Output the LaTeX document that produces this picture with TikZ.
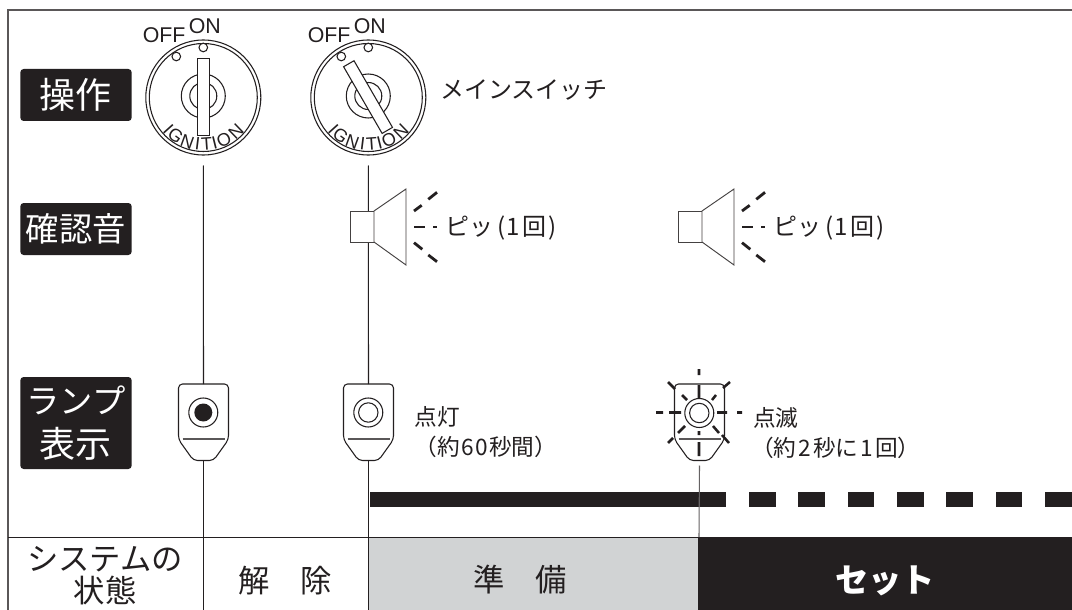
\documentclass[tikz,border=0pt]{standalone}
\usepackage{fontspec}
\setmainfont{Liberation Sans}
\newfontfamily\jp{Noto Sans CJK JP}
\definecolor{ink}{HTML}{231F20}
\definecolor{pale}{HTML}{D1D3D4}
\newcommand{\jpsize}[2]{\fontsize{#1}{#2}\selectfont}
\tikzset{
  x=0.75pt,y=-0.75pt,
  thinline/.style={draw=ink,line width=0.8pt},
  spkline/.style={draw=ink!85,line width=0.7pt},
  ray/.style={draw=ink,line width=2.1pt},
  tag/.style={fill=ink,rounded corners=2.5pt,text=white,inner sep=0pt,align=center,font=\jp\jpsize{27}{33}},
  note/.style={text=ink,inner sep=0pt,font=\jp\jpsize{18}{25.5},align=left},
  twoline/.style={text=ink,inner sep=0pt,font=\jp\jpsize{17}{22.5},align=left},
  state/.style={text=ink,inner sep=0pt,align=center,font=\jp\jpsize{23.5}{24}},
  posn/.style={text=ink,inner sep=0pt,font=\jpsize{16}{16}},
  keyletter/.style={text=ink,inner sep=0pt,font=\jpsize{13.5}{14}},
  pics/keyswitch/.style={code={
    \draw[thinline] (0,0) circle[radius=57.5];
    \draw[thinline] (0,0) circle[radius=54];
    \draw[thinline] (0,-1.5) circle[radius=22];
    \draw[thinline] (0,-1.5) circle[radius=13.5];
    \draw[thinline,fill=white] (-27,-41) circle[radius=4.3];
    \draw[thinline,fill=white] (0,-50) circle[radius=4.3];
    \foreach \ch/\an in {I/48,G/36,N/20,I/7,T/-4,I/-14,O/-26,N/-44}{
      \node[keyletter,rotate=-\an] at ({-47*sin(\an)},{47*cos(\an)}) {\ch};
    }
    \draw[thinline,fill=white,rotate=#1] (-6,-39) rectangle (6,38);
    \coordinate (-stem) at (0,68);
  }},
  pics/lampbody/.style={code={
    \draw[thinline,fill=white,rounded corners=3pt] (-25,-28.5) -- (25,-28.5) -- (25,27) -- (10,48) -- (-10,48) -- (-25,27) -- cycle;
    \draw[draw=ink!75,line width=0.9pt] (-21,26.5) -- (21,26.5);
    \coordinate (-top) at (0,-28.5);
    \coordinate (-bot) at (0,48);
  }},
  pics/speaker/.style={code={
    \draw[spkline,fill=white] (0,-15.5) rectangle (24,15.5);
    \draw[spkline,fill=white] (24,-15.5) -- (56,-37.5) -- (56,38.5) -- (24,15.5) -- cycle;
    \draw[ray] (64,-15.5) -- (71.7,-21.2) (78.3,-27.2) -- (87,-34.2);
    \draw[ray] (64,0.5) -- (75,0.5) (83.3,0.5) -- (86.7,0.5);
    \draw[ray] (64,16.2) -- (72.3,22.8) (78.3,28.5) -- (87,35.2);
  }}
}
\begin{document}
\begin{tikzpicture}
\useasboundingbox (0,0) rectangle (1072,610);
\fill[white] (0,0) rectangle (1072,610);
% state band
\fill[pale] (369,537) rectangle (698,610);
\fill[ink] (698,537) rectangle (1072,610);
% frame
\draw[draw=ink!75,line width=0.9pt] (8,610) -- (8,10) -- (1072,10);
\draw[thinline] (8,537.5) -- (1072,537.5);
% row tags
\node[tag,minimum width=83.5pt,minimum height=39pt] (tagop) at (76,95) {操作};
\node[tag,minimum width=83.5pt,minimum height=39pt,font=\jp\jpsize{25}{30}] (tagsnd) at (76,229) {確認音};
\node[tag,minimum width=83.5pt,minimum height=69pt] (taglamp) at (76,423) {\jpsize{25}{31.5}ランプ\\\jpsize{27}{31.5}表示};
% key switches
\pic (key1) at (203.3,97.5) {keyswitch=0};
\pic (key2) at (368.3,97.5) {keyswitch=30};
\node[posn,anchor=base west] (off1) at (142.5,43) {OFF};
\node[posn,anchor=base west] (on1) at (188.5,34) {ON};
\node[posn,anchor=base west] (off2) at (307.5,43) {OFF};
\node[posn,anchor=base west] (on2) at (353.5,34) {ON};
\node[note,anchor=west] (main) at (440,90) {メインスイッチ};
% lamps
\pic (lamp1) at (203.5,412.5) {lampbody};
\pic (lamp2) at (368.5,412.5) {lampbody};
\pic (lamp3) at (699.5,412.5) {lampbody};
\draw[thinline] (203.3,412.5) circle[radius=14.5];
\fill[ink] (203.3,412.5) circle[radius=9];
\draw[thinline] (368.3,412.5) circle[radius=14.5];
\draw[thinline] (368.3,412.5) circle[radius=9.7];
\draw[thinline] (699.3,413) circle[radius=14.5];
\draw[thinline] (699.3,413) circle[radius=9.7];
% flash rays
\draw[ray,line width=1.9pt]
  (699,369) -- (699,375) (699,385) -- (699,398)
  (699,431) -- (699,435) (699,442) -- (699,456)
  (656,412.5) -- (663,412.5) (669,412.5) -- (681,412.5)
  (717,412.5) -- (727,412.5) (737,412.5) -- (742,412.5)
  (668,382) -- (675,389) (682,395) -- (687,400)
  (730,382) -- (723,388) (716,395) -- (712,400)
  (685,426) -- (678,433) (673,438) -- (668,443)
  (713,426) -- (719,433) (722,435) -- (729,443);
% progress bar
\fill[ink] (370,492) rectangle (726,507);
\foreach \xx in {749,798.3,847.7,897,946.3,995.7,1045}{
  \fill[ink] (\xx,492) rectangle ({\xx+26.7},507);
}
% connectors
\coordinate (end1) at (203.5,610);
\coordinate (end2) at (368.5,610);
\coordinate (sep3) at (699,537);
\draw[thinline] (key1-stem) -- (lamp1-top);
\draw[thinline] (lamp1-bot) -- (end1);
\draw[thinline] (key2-stem) -- (lamp2-top);
\draw[thinline] (lamp2-bot) -- (end2);
\draw[draw=ink!70,line width=0.8pt] (lamp3-bot) ++(0,5) -- (sep3);
% speakers
\pic (spk1) at (350,226.5) {speaker};
\pic (spk2) at (678,226.5) {speaker};
\node[note,anchor=west] (beep1) at (445,228) {ピッ\kern3pt(\kern1pt1\kern1.5pt回\kern1.5pt)};
\node[note,anchor=west] (beep2) at (773,228) {ピッ\kern3pt(\kern1pt1\kern1.5pt回\kern1.5pt)};
% lamp notes
\node[twoline,anchor=west] (lit) at (414.5,432) {点灯\\（約\kern1pt6\kern1pt0\kern1pt秒間）};
\node[twoline,anchor=west] (blink) at (753,433) {点滅\\\kern-1.5pt（約\kern1.5pt2\kern1.5pt秒に\kern1.5pt1\kern1.5pt回）};
% states
\node[state] (sys) at (105,576) {システムの\\状態};
\node[state] (off) at (285,581) {解　除};
\node[state] (prep) at (520,580) {準　備};
\node[state,text=white,font=\jp\bfseries\jpsize{25}{26}] (set) at (885,581) {セット};
\end{tikzpicture}
\end{document}
